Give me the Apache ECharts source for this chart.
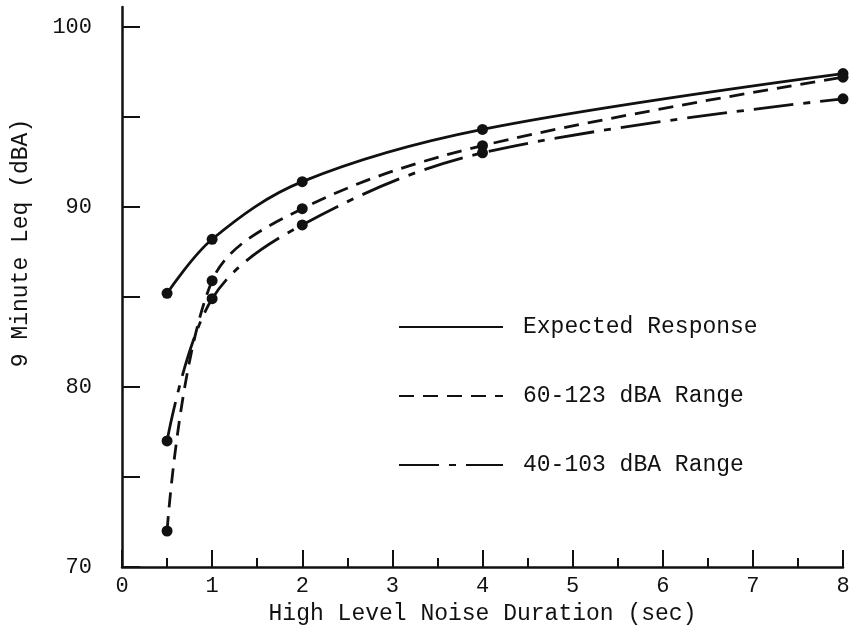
<!DOCTYPE html>
<html>
<head>
<meta charset="utf-8">
<script src="https://cdn.jsdelivr.net/npm/echarts@6.0.0/dist/echarts.min.js"></script>
<style>
  html, body { margin: 0; padding: 0; background: #fff; }
  #chart { width: 858px; height: 641px; }
</style>
</head>
<body>
<div id="chart"></div>
<script>
// durations (sec) and the three measured curves (dBA)
const durations = [0.5, 1, 2, 4, 8];
const expectedResponse = [85.2, 88.2, 91.4, 94.3, 97.4];
const range60to123 = [72.0, 85.9, 89.9, 93.4, 97.2];
const range40to103 = [77.0, 84.9, 89.0, 93.0, 96.0];

const yTicks = [70, 75, 80, 85, 90, 95, 100];
const yLabels = [70, 80, 90, 100];

const ink = '#111';
const typeFont = "'Liberation Mono', 'DejaVu Sans Mono', monospace";

const pairs = vals => durations.map((d, i) => [d, vals[i]]);

const makeSeries = (name, vals, dash) => ({
  name: name,
  type: 'line',
  data: pairs(vals),
  smooth: 0.35,
  symbol: 'circle',
  symbolSize: 11,
  itemStyle: { color: ink },
  lineStyle: { color: ink, width: 2.8, type: dash }
});

const chart = echarts.init(document.getElementById('chart'));

const option = {
  backgroundColor: '#fff',
  animation: false,
  grid: { left: 122, right: 15, top: 7, bottom: 74 },
  legend: {
    orient: 'vertical',
    left: 393,
    top: 310,
    itemWidth: 104,
    itemHeight: 14,
    itemGap: 45,
    itemStyle: { opacity: 0 },
    textStyle: { fontFamily: typeFont, fontSize: 23, color: ink, lineHeight: 24, padding: [0, 0, 0, 15] },
    data: ['Expected Response', '60-123 dBA Range', '40-103 dBA Range']
  },
  xAxis: {
    type: 'value',
    min: 0,
    max: 8,
    interval: 1,
    name: 'High Level Noise Duration (sec)',
    nameLocation: 'middle',
    nameGap: 35,
    nameTextStyle: { fontFamily: typeFont, fontSize: 23, color: ink },
    axisLine: { lineStyle: { color: ink, width: 2.5 } },
    axisTick: { inside: true, length: 17, lineStyle: { color: ink, width: 2 } },
    minorTick: { show: true, splitNumber: 2, length: 9, lineStyle: { color: ink, width: 2 } },
    splitLine: { show: false },
    minorSplitLine: { show: false },
    axisLabel: { fontFamily: typeFont, fontSize: 22, color: ink, margin: 8 }
  },
  yAxis: {
    type: 'value',
    min: 70,
    max: 101.1,
    name: '9 Minute Leq (dBA)',
    nameLocation: 'middle',
    nameGap: 90,
    nameTextStyle: { fontFamily: typeFont, fontSize: 23, color: ink, padding: [0, 0, 0, 88] },
    axisLine: { lineStyle: { color: ink, width: 2.5 } },
    axisTick: { inside: true, length: 18, customValues: yTicks, lineStyle: { color: ink, width: 2 } },
    axisLabel: { customValues: yLabels, fontFamily: typeFont, fontSize: 22, color: ink, margin: 30 },
    splitLine: { show: false }
  },
  series: [
    makeSeries('Expected Response', expectedResponse, 'solid'),
    makeSeries('60-123 dBA Range', range60to123, [15, 9]),
    makeSeries('40-103 dBA Range', range40to103, [40, 10, 7, 10])
  ]
};

chart.setOption(option);
</script>
</body>
</html>
